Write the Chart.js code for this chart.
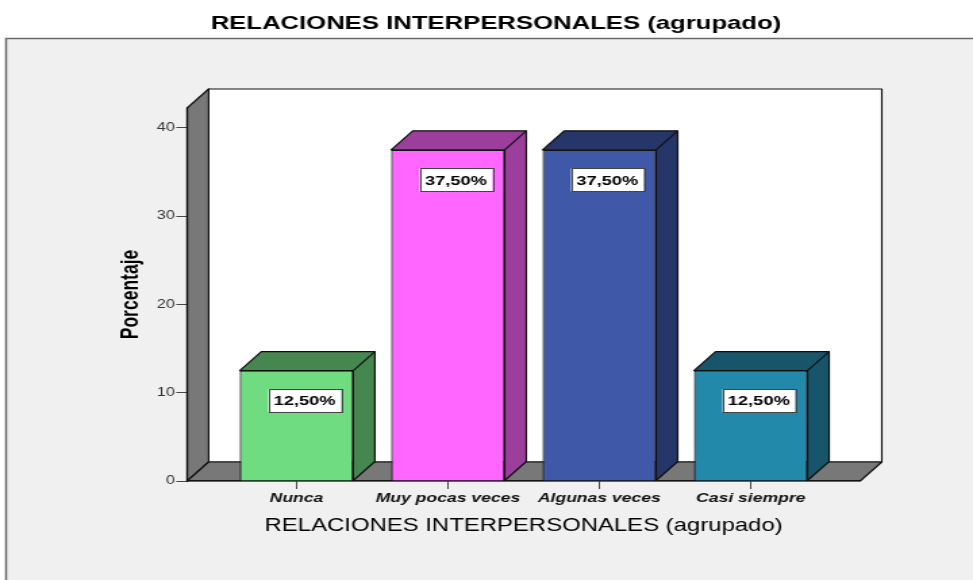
<!DOCTYPE html>
<html>
<head>
<meta charset="utf-8">
<title>Relaciones interpersonales (agrupado)</title>
<script src="https://cdn.jsdelivr.net/npm/chart.js@4.4.1/dist/chart.umd.min.js"></script>
<style>
  html, body { margin: 0; padding: 0; background: #fff; overflow: hidden; }
  /* el grafico original de SPSS esta estirado a lo ancho: se dibuja a 720 y se ensancha */
  #marco { width: 720px; height: 580px; transform: scaleX(1.3514); transform-origin: 0 0; }
</style>
</head>
<body>
<div id="marco"><canvas id="grafico"></canvas></div>
<script>
const categorias = ["Nunca", "Muy pocas veces", "Algunas veces", "Casi siempre"];
const porcentajes = [12.5, 37.5, 37.5, 12.5];
const ticksY = [0, 10, 20, 30, 40];

const coloresFrente = ["#70dc82", "#ff66ff", "#3f58a8", "#2289aa"];
const coloresLado = ["#46874f", "#9c3f9c", "#263669", "#17566a"];

const FUENTE = "'Liberation Sans', Arial, sans-serif";
const PROF_X = 16; // profundidad del efecto 3D
const PROF_Y = 19;

// marco gris, paredes y piso
const fondo3d = {
  id: "fondo3d",
  beforeDraw(chart) {
    const { ctx, chartArea: a } = chart;
    ctx.save();
    ctx.fillStyle = "#f0f0f0";
    ctx.fillRect(4, 38, chart.width, chart.height);
    ctx.strokeStyle = "#6a6a6a";
    ctx.lineWidth = 1.5;
    ctx.beginPath();
    ctx.moveTo(4.5, chart.height);
    ctx.lineTo(4.5, 38.5);
    ctx.lineTo(chart.width, 38.5);
    ctx.stroke();

    ctx.strokeStyle = "#111";
    ctx.lineWidth = 1.2;
    ctx.lineJoin = "round";
    // pared del fondo
    ctx.fillStyle = "#fff";
    ctx.fillRect(a.left + PROF_X, a.top - PROF_Y, a.width, a.height);
    ctx.strokeRect(a.left + PROF_X, a.top - PROF_Y, a.width, a.height);
    // pared lateral
    ctx.fillStyle = "#787878";
    ctx.beginPath();
    ctx.moveTo(a.left, a.bottom);
    ctx.lineTo(a.left, a.top);
    ctx.lineTo(a.left + PROF_X, a.top - PROF_Y);
    ctx.lineTo(a.left + PROF_X, a.bottom - PROF_Y);
    ctx.closePath();
    ctx.fill();
    ctx.stroke();
    // piso
    ctx.beginPath();
    ctx.moveTo(a.left, a.bottom);
    ctx.lineTo(a.right, a.bottom);
    ctx.lineTo(a.right + PROF_X, a.bottom - PROF_Y);
    ctx.lineTo(a.left + PROF_X, a.bottom - PROF_Y);
    ctx.closePath();
    ctx.fill();
    ctx.stroke();
    ctx.restore();
  },
};

// caras superior y lateral de cada barra
const barras3d = {
  id: "barras3d",
  beforeDatasetsDraw(chart) {
    const { ctx } = chart;
    ctx.save();
    ctx.strokeStyle = "#111";
    ctx.lineWidth = 1.2;
    ctx.lineJoin = "round";
    chart.getDatasetMeta(0).data.forEach((bar, i) => {
      const izq = bar.x - bar.width / 2;
      const der = bar.x + bar.width / 2;
      ctx.fillStyle = coloresLado[i];
      ctx.beginPath();
      ctx.moveTo(izq, bar.y);
      ctx.lineTo(izq + PROF_X, bar.y - PROF_Y);
      ctx.lineTo(der + PROF_X, bar.y - PROF_Y);
      ctx.lineTo(der + PROF_X, bar.base - PROF_Y);
      ctx.lineTo(der, bar.base);
      ctx.lineTo(der, bar.y);
      ctx.closePath();
      ctx.fill();
      ctx.stroke();
      ctx.beginPath();
      ctx.moveTo(der, bar.y);
      ctx.lineTo(der + PROF_X, bar.y - PROF_Y);
      ctx.stroke();
    });
    ctx.restore();
  },
};

// etiquetas con el porcentaje en una caja blanca
const etiquetas = {
  id: "etiquetas",
  afterDatasetsDraw(chart) {
    const { ctx } = chart;
    ctx.save();
    ctx.font = "bold 13.5px " + FUENTE;
    ctx.textAlign = "center";
    ctx.textBaseline = "middle";
    chart.getDatasetMeta(0).data.forEach((bar, i) => {
      const texto = porcentajes[i].toFixed(2).replace(".", ",") + "%";
      const cx = bar.x + 6;
      const cy = bar.y + 30;
      const w = ctx.measureText(texto).width + 8;
      const h = 23;
      ctx.fillStyle = "#fff";
      ctx.fillRect(cx - w / 2, cy - h / 2, w, h);
      ctx.strokeStyle = "#444";
      ctx.lineWidth = 1;
      ctx.strokeRect(Math.round(cx - w / 2) + 0.5, Math.round(cy - h / 2) + 0.5, Math.round(w), h);
      ctx.fillStyle = "#000";
      ctx.fillText(texto, cx, cy + 1);
    });
    ctx.restore();
  },
};

new Chart(document.getElementById("grafico"), {
  type: "bar",
  data: {
    datasets: [
      {
        label: "Porcentaje",
        data: porcentajes.map((v, i) => ({ x: i, y: v })),
        backgroundColor: coloresFrente,
        borderColor: "#111",
        borderWidth: 1.2,
        barPercentage: 0.75,
        categoryPercentage: 1,
      },
    ],
  },
  options: {
    responsive: true,
    maintainAspectRatio: false,
    animation: false,
    layout: { padding: { left: 14, right: 0, top: 0, bottom: 0 } },
    plugins: {
      legend: { display: false },
      tooltip: { enabled: false },
      title: {
        display: true,
        text: "RELACIONES INTERPERSONALES (agrupado)",
        color: "#000",
        font: { family: FUENTE, size: 19, weight: "bold" },
        padding: { top: 12, bottom: 73.2 },
      },
    },
    scales: {
      x: {
        type: "linear",
        min: -0.723,
        max: 3.723,
        offset: false,
        afterBuildTicks: (scale) => { scale.ticks = categorias.map((c, i) => ({ value: i })); },
        afterFit: (scale) => { scale.height = 99; },
        ticks: {
          autoSkip: false,
          maxRotation: 0,
          padding: 2,
          color: "#111",
          font: { family: FUENTE, size: 13, weight: "bold", style: "italic" },
          callback: (v) => categorias[v],
        },
        grid: { offset: false, drawOnChartArea: false, drawTicks: true, tickLength: 8, color: "#444" },
        border: { display: true, color: "#111", width: 1.2 },
        title: {
          display: true,
          text: "RELACIONES INTERPERSONALES (agrupado)",
          color: "#000",
          font: { family: FUENTE, size: 17.7 },
          padding: { top: 0, bottom: 43.5 },
        },
      },
      y: {
        min: 0,
        max: 42.24,
        afterBuildTicks: (scale) => { scale.ticks = ticksY.map((v) => ({ value: v })); },
        afterFit: (scale) => { scale.width = 124.4; },
        ticks: {
          padding: 1,
          color: "#333",
          font: { family: FUENTE, size: 12 },
        },
        grid: { drawOnChartArea: false, drawTicks: true, tickLength: 8, color: "#444" },
        border: { display: true, color: "#111", width: 1.2 },
        title: {
          display: true,
          text: "Porcentaje",
          color: "#000",
          font: { family: FUENTE, size: 17.5, weight: "bold" },
          padding: { top: 72.2, bottom: 0 },
        },
      },
      // eje vacio a la derecha, solo reserva el margen
      margen: {
        type: "linear",
        position: "right",
        grid: { display: false },
        ticks: { display: false },
        border: { display: false },
        afterFit: (scale) => { scale.width = 83.5; },
      },
    },
  },
  plugins: [fondo3d, barras3d, etiquetas],
});
</script>
</body>
</html>
